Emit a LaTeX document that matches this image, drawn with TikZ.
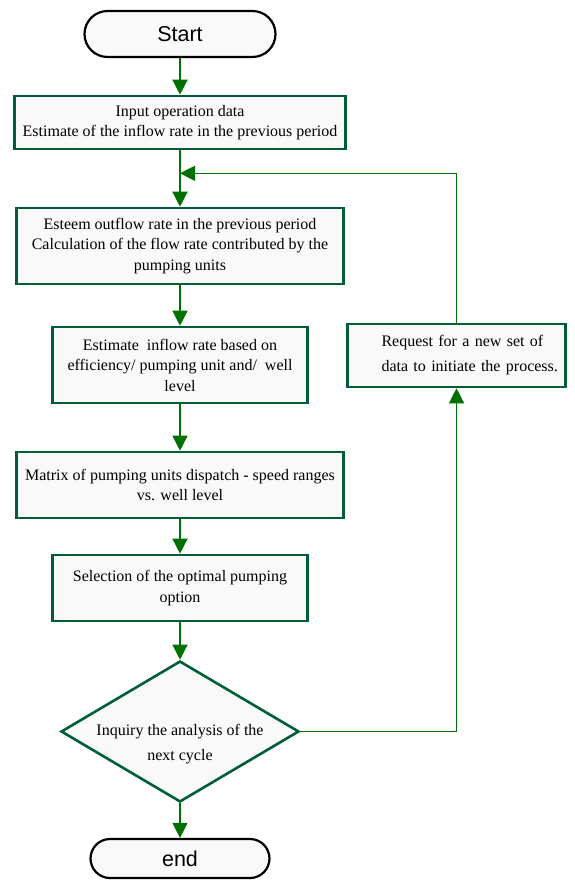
\documentclass[tikz,border=0pt]{standalone}
\usepackage{fontspec}
\setmainfont{Liberation Serif}
\newfontfamily\termfont{Liberation Sans}
\usetikzlibrary{positioning, arrows.meta, shapes.geometric}
\definecolor{boxgreen}{RGB}{0,94,54}
\definecolor{arrowgreen}{RGB}{0,112,0}
\definecolor{boxfill}{RGB}{249,249,249}

\begin{document}
\begin{tikzpicture}
    [
        on grid, auto,
        term_node/.style={rectangle, draw=black, fill=boxfill, line width=2.2pt, inner sep=0pt, font=\termfont\fontsize{21.5}{24}\selectfont},
        green_box/.style={rectangle, draw=boxgreen, fill=boxfill, line width=2.6pt, inner sep=2pt, align=center, font=\fontsize{16}{20.5}\selectfont},
        green_dia/.style={diamond, aspect=1.69, draw=boxgreen, fill=boxfill, line width=2.6pt, inner sep=-8pt, text height=62pt, align=center, font=\fontsize{16}{25}\selectfont},
        green_arrow/.style={-{Triangle[width=15pt, length=15pt]}, line width=1.3pt, color=arrowgreen},
    ]
        \useasboundingbox (0,0) rectangle (575pt,-880pt) ;
        \node[term_node, rounded corners=23pt, minimum width=191pt, minimum height=46pt] (start) at (180pt,-34pt) {Start} ;
        \node[green_box, minimum width=331pt, minimum height=53pt] (input) [below = 88.5pt of start] {Input operation data\\Estimate of the inflow rate in the previous period} ;
        \node[green_box, minimum width=327pt, minimum height=76pt] (outflow) [below = 123.5pt of input] {Esteem outflow rate in the previous period\\Calculation of the flow rate contributed by the\\pumping units} ;
        \node[green_box, minimum width=255pt, minimum height=76pt] (inflow) [below = 119pt of outflow] {Estimate~ inflow rate based on\\efficiency/ pumping unit and/~ well\\level} ;
        \node[green_box, minimum width=327pt, minimum height=66pt] (dispatch) [below = 120pt of inflow] {Matrix of pumping units dispatch - speed ranges\\vs. well level} ;
        \node[green_box, minimum width=255pt, minimum height=66pt] (select) [below = 103pt of dispatch] {Selection of the optimal pumping\\option} ;
        \node[green_dia, minimum width=238pt, minimum height=141pt] (inquiry) [below = 143.5pt of select] {Inquiry the analysis of the\\next cycle} ;
        \node[term_node, rounded corners=19.5pt, minimum width=179pt, minimum height=39pt] (finish) [below = 127pt of inquiry] {end} ;
        \node[green_box, align=left, text width=212pt, minimum width=218pt, minimum height=63pt, font=\fontsize{16}{25}\selectfont] (request) [above right = 9.5pt and 276.5pt of inflow] {\hspace*{31pt}\makebox[181pt][s]{Request for a new set of}\\\hspace*{31pt}data to initiate the process.} ;
        \coordinate[below = 23pt of input.south] (join) ;
        \draw[green_arrow] (start) -- (input) ;
        \draw[green_arrow] (input) -- (outflow) ;
        \draw[green_arrow] (outflow) -- (inflow) ;
        \draw[green_arrow] (inflow) -- (dispatch) ;
        \draw[green_arrow] (dispatch) -- (select) ;
        \draw[green_arrow] (select) -- (inquiry) ;
        \draw[green_arrow] (inquiry) -- (finish) ;
        \draw[green_arrow] (inquiry.east) -| (request.south) ;
        \draw[green_arrow] (request.north) |- (join) ;
    \end{tikzpicture}
\end{document}
